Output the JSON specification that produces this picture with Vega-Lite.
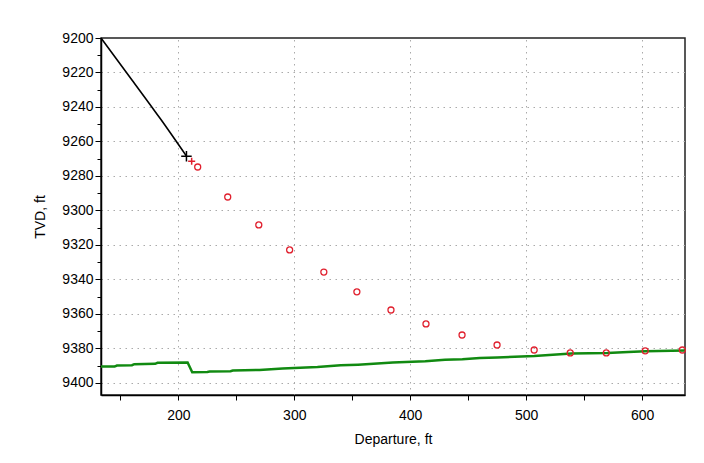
{
  "$schema": "https://vega.github.io/schema/vega-lite/v6.json",
  "width": 584,
  "height": 357,
  "autosize": "none",
  "padding": {"left": 101, "top": 38, "right": 19, "bottom": 68},
  "background": "white",
  "config": {
    "view": {"stroke": "#222", "strokeWidth": 1.5},
    "axis": {
      "labelFont": "Liberation Sans",
      "titleFont": "Liberation Sans",
      "labelFontSize": 14,
      "titleFontSize": 14,
      "titleFontWeight": "normal",
      "labelColor": "black",
      "titleColor": "black",
      "domainColor": "black",
      "domainWidth": 1.5,
      "tickColor": "black",
      "gridColor": "#aaa",
      "gridDash": [1.5, 4.5],
      "gridWidth": 1
    }
  },
  "datasets": {
    "path": [
      {"dep": 133.3, "tvd": 9200},
      {"dep": 160, "tvd": 9224.3},
      {"dep": 185, "tvd": 9247.3},
      {"dep": 207, "tvd": 9268.5}
    ],
    "survey": [
      {"dep": 216.7, "tvd": 9274.8},
      {"dep": 242.6, "tvd": 9292.2},
      {"dep": 269.4, "tvd": 9308.4},
      {"dep": 296.0, "tvd": 9322.9},
      {"dep": 325.5, "tvd": 9335.7},
      {"dep": 354.0, "tvd": 9347.2},
      {"dep": 383.4, "tvd": 9357.7},
      {"dep": 413.6, "tvd": 9365.8},
      {"dep": 444.7, "tvd": 9372.2},
      {"dep": 474.9, "tvd": 9378.0},
      {"dep": 506.9, "tvd": 9380.9},
      {"dep": 538.0, "tvd": 9382.6},
      {"dep": 569.1, "tvd": 9382.6},
      {"dep": 602.7, "tvd": 9381.4},
      {"dep": 634.7, "tvd": 9380.9}
    ],
    "green": [
      {"dep": 133.3, "tvd": 9390.5},
      {"dep": 145, "tvd": 9390.5},
      {"dep": 147, "tvd": 9389.9},
      {"dep": 160, "tvd": 9389.7},
      {"dep": 162, "tvd": 9389.1},
      {"dep": 180, "tvd": 9388.9},
      {"dep": 182, "tvd": 9388.3},
      {"dep": 208, "tvd": 9388.2},
      {"dep": 212, "tvd": 9393.8},
      {"dep": 225, "tvd": 9393.7},
      {"dep": 227, "tvd": 9393.4},
      {"dep": 245, "tvd": 9393.2},
      {"dep": 247, "tvd": 9392.8},
      {"dep": 270, "tvd": 9392.5},
      {"dep": 290, "tvd": 9391.7},
      {"dep": 320, "tvd": 9390.8},
      {"dep": 340, "tvd": 9389.8},
      {"dep": 355, "tvd": 9389.4},
      {"dep": 385, "tvd": 9388.2},
      {"dep": 413, "tvd": 9387.5},
      {"dep": 430, "tvd": 9386.6},
      {"dep": 445, "tvd": 9386.2},
      {"dep": 460, "tvd": 9385.5},
      {"dep": 475, "tvd": 9385.2},
      {"dep": 507, "tvd": 9384.4},
      {"dep": 523, "tvd": 9383.6},
      {"dep": 539, "tvd": 9383.0},
      {"dep": 570, "tvd": 9382.7},
      {"dep": 588, "tvd": 9382.0},
      {"dep": 603, "tvd": 9381.6},
      {"dep": 637, "tvd": 9381.2}
    ],
    "endBlack": [{"dep": 207, "tvd": 9268.5}],
    "endRed": [{"dep": 211.5, "tvd": 9271.5}]
  },
  "encoding": {
    "x": {
      "field": "dep",
      "type": "quantitative",
      "scale": {"domain": [133.3, 637], "nice": false, "zero": false},
      "axis": {
        "title": "Departure, ft",
        "values": [150, 200, 250, 300, 350, 400, 450, 500, 550, 600],
        "labelExpr": "datum.value % 100 == 0 ? datum.label : ''",
        "format": "d",
        "grid": true,
        "gridOpacity": {"condition": {"test": "datum.value % 100 == 0", "value": 1}, "value": 0},
        "tickSize": 5,
        "labelPadding": 8,
        "titlePadding": 10
      }
    },
    "y": {
      "field": "tvd",
      "type": "quantitative",
      "scale": {"domain": [9200, 9407], "nice": false, "zero": false, "reverse": true},
      "axis": {
        "title": "TVD, ft",
        "values": [9200, 9210, 9220, 9230, 9240, 9250, 9260, 9270, 9280, 9290, 9300, 9310, 9320, 9330, 9340, 9350, 9360, 9370, 9380, 9390, 9400],
        "labelExpr": "datum.value % 20 == 0 ? datum.label : ''",
        "format": "d",
        "grid": true,
        "gridOpacity": {"condition": {"test": "datum.value % 20 == 0 && datum.value > 9200", "value": 1}, "value": 0},
        "tickSize": {"condition": {"test": "datum.value % 20 == 0", "value": 6}, "value": 4},
        "labelPadding": 2,
        "titlePadding": 14
      }
    }
  },
  "layer": [
    {"data": {"name": "green"}, "mark": {"type": "line", "color": "#118a11", "strokeWidth": 2.5}},
    {"data": {"name": "path"}, "mark": {"type": "line", "color": "black", "strokeWidth": 1.6, "interpolate": "monotone"}},
    {"data": {"name": "survey"}, "mark": {"type": "point", "shape": "circle", "filled": false, "color": "#e0202e", "size": 36, "strokeWidth": 1.3, "opacity": 1}},
    {"data": {"name": "endRed"}, "mark": {"type": "point", "shape": "M-1,0L1,0M0,-1L0,1", "filled": false, "color": "#e0202e", "size": 50, "strokeWidth": 1.5, "opacity": 1}},
    {"data": {"name": "endBlack"}, "mark": {"type": "point", "shape": "M-1,0L1,0M0,-1L0,1", "filled": false, "color": "black", "size": 110, "strokeWidth": 1.5, "opacity": 1}}
  ]
}
